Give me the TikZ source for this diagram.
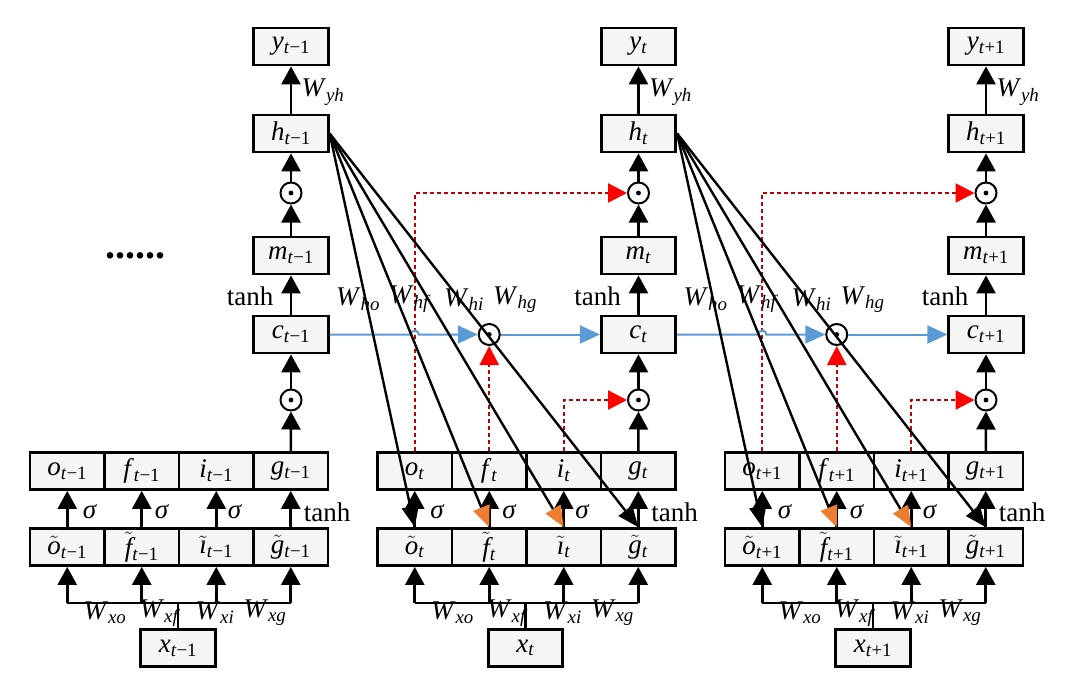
\documentclass[tikz,border=0pt]{standalone}
\usepackage{fontspec}
\setmainfont{Liberation Serif}
\usetikzlibrary{arrows.meta}
\definecolor{cellblue}{RGB}{91,155,213}
\definecolor{gatered}{RGB}{192,0,0}
\definecolor{tipred}{RGB}{255,0,0}
\definecolor{tiporange}{RGB}{237,125,49}
\newcommand{\lv}[2]{\textit{#1}\textsubscript{\textit{t}#2}}
\newcommand{\wl}[1]{\textit{W}\textsubscript{\textit{#1}}}
\newcommand{\tl}[1]{$\tilde{\hbox{\itshape #1}}$}

\begin{document}
\begin{tikzpicture}[x=1pt,y=-1pt,
    every node/.style={font=\fontsize{27}{29}\selectfont},
    box/.style={draw,line width=2.8pt,fill=black!4,minimum width=74.5pt,minimum height=37pt,inner sep=0pt},
    dotop/.style={circle,draw,line width=2pt,minimum size=21pt,inner sep=0pt},
    up/.style={line width=2.6pt,-{Triangle[length=18pt,width=19pt]}},
    fan/.style={line width=2.4pt,-{Triangle[length=21pt,width=17pt]}},
    fanor/.style={line width=2.4pt,-{Triangle[length=21pt,width=17pt,color=tiporange]}},
    gate/.style={gatered,line width=2.4pt,dash pattern=on 4pt off 3pt,-{Triangle[length=19pt,width=19pt,color=tipred]}},
    cell/.style={cellblue,line width=2pt,-{Triangle[length=20pt,width=18pt]}}]
    \useasboundingbox (0,0) rectangle (1080,691);
    \node[font=\fontsize{40}{40}\selectfont\bfseries] (dots) at (135,256) {......};

    \foreach \k/\s in {0/−1,1/{},2/+1}{
        \pgfmathsetmacro\xa{30+347.5*\k}
        \pgfmathsetmacro\xc{\xa+261}
        \node[box] (y\k) at (\xc,46.5) {\lv{y}{\s}};
        \node[box] (h\k) at (\xc,133.5) {\lv{h}{\s}};
        \node[dotop] (p\k) at (\xc,193) {};
        \node[box] (m\k) at (\xc,255.5) {\lv{m}{\s}};
        \node[box] (c\k) at (\xc,334.5) {\lv{c}{\s}};
        \node[dotop] (q\k) at (\xc,400) {};
        \fill (p\k) circle (2.4pt) (q\k) circle (2.4pt);
        \draw[up] (h\k) -- (y\k);
        \draw[up] (p\k) -- (h\k);
        \draw[up] (m\k) -- (p\k);
        \draw[up] (c\k) -- (m\k);
        \draw[up] (q\k) -- (c\k);
        \node at (\xc+32,92) {\wl{yh}};
        \node at (\xc-41,296) {tanh};
        \foreach \g/\tg/\j in {o/o/0,f/f/1,i/\i/2,g/g/3}{
            \node[box] (\g\k) at (\xa+37.25+74.5*\j,471) {\lv{\g}{\s}};
            \node[box] (tl\g\k) at (\xa+37.25+74.5*\j,547) {\tl{\tg}\textsubscript{\textit{t}\s}};
            \draw[up] (tl\g\k) -- (\g\k);
        }
        \draw[up] (g\k) -- (q\k);
        \node[box] (x\k) at (\xa+148,648) {\lv{x}{\s}};
        \coordinate (bus\k) at (\xa+148,603);
        \draw[line width=2.6pt] (x\k) -- (bus\k) (tlo\k.south |- bus\k) -- (tlg\k.south |- bus\k);
        \foreach \g/\dx in {o/75,f/130,i/185,g/235}{
            \draw[up] (tl\g\k.south |- bus\k) -- (tl\g\k);
            \node at (\xa+\dx,613) {\wl{x\g}};
        }
        \foreach \dx in {60,132,205}
            \node at (\xa+\dx,512) {\textit{σ}};
        \node at (\xa+297,512) {tanh};
    }

    \foreach \k/\n in {0/1,1/2}{
        \node[dotop] (r\k) at (f\n |- c\k) {};
        \fill (r\k) circle (2.4pt);
        \coordinate (hop\k) at (o\n |- c\k);
        \draw[gate] (o\n.north) |- (p\n);
        \draw[gate] (f\n) -- (r\k);
        \draw[gate] (i\n.north) |- (q\n);
        \draw[cell] (c\k) -- ([xshift=-4pt]hop\k) arc (180:360:4) -- (r\k);
        \draw[cell] (r\k) -- (c\n);
        \foreach \g/\st in {o/fan,f/fanor,i/fanor,g/fan}
            \draw[\st] (h\k.east) -- (tl\g\n.north);
        \foreach \g/\dx in {o/67,f/119,i/173,g/224}
            \node at ([xshift=\dx pt,yshift=35pt]c\k) {\wl{h\g}};
    }
\end{tikzpicture}
\end{document}
